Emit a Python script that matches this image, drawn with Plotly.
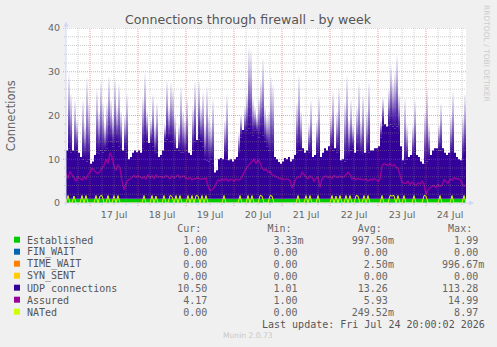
import pandas as pd
import plotly.graph_objects as go

# ---------------- data ----------------
start = "2026-07-16 12:00"
end = "2026-07-24 20:00"
day_labels = ["17 Jul", "18 Jul", "19 Jul", "20 Jul", "21 Jul", "22 Jul", "23 Jul", "24 Jul"]
label_times = ["2026-07-%02d 12:00" % d for d in range(17, 25)]

# hourly samples starting 16 Jul 12:00 (201 values)
established = [
    1.0, 1.0, 1.0, 1.0, 1.0, 1.0, 1.0, 1.0, 1.0, 1.0,
    1.0, 1.0, 1.0, 1.0, 1.0, 1.0, 1.0, 1.0, 1.0, 1.0,
    1.0, 1.0, 1.0, 1.0, 1.0, 1.0, 1.0, 1.0, 1.0, 1.0,
    1.0, 1.0, 1.0, 1.0, 1.0, 1.0, 1.0, 1.0, 1.0, 1.0,
    1.0, 1.0, 1.0, 1.0, 1.0, 1.0, 1.0, 1.0, 1.0, 1.0,
    1.0, 1.0, 1.0, 1.0, 1.0, 1.0, 1.0, 1.0, 1.0, 1.0,
    1.0, 1.0, 1.0, 1.0, 1.0, 1.0, 1.0, 1.0, 1.0, 1.0,
    1.0, 1.0, 1.0, 1.0, 1.0, 1.0, 1.0, 1.0, 1.0, 1.0,
    1.0, 1.0, 1.0, 1.0, 1.0, 1.0, 1.0, 1.0, 1.0, 1.0,
    1.0, 1.0, 1.0, 1.0, 1.0, 1.0, 1.0, 1.0, 1.0, 1.0,
    1.0, 1.0, 1.0, 1.0, 1.0, 1.0, 1.0, 1.0, 1.0, 1.0,
    1.0, 1.0, 1.0, 1.0, 1.0, 1.0, 1.0, 1.0, 1.0, 1.0,
    1.0, 1.0, 1.0, 1.0, 1.0, 1.0, 1.0, 1.0, 1.0, 1.0,
    1.0, 1.0, 1.0, 1.0, 1.0, 1.0, 1.0, 1.0, 1.0, 1.0,
    1.0, 1.0, 1.0, 1.0, 1.0, 1.0, 1.0, 1.0, 1.0, 1.0,
    1.0, 1.0, 1.0, 1.0, 1.0, 1.0, 1.0, 1.0, 1.0, 1.0,
    1.0, 1.0, 1.0, 1.0, 1.0, 1.0, 1.0, 1.0, 1.0, 1.0,
    1.0, 1.0, 1.0, 1.0, 1.0, 1.0, 1.0, 1.0, 1.0, 1.0,
    1.0, 1.0, 1.0, 1.0, 1.0, 1.0, 1.0, 1.0, 1.0, 1.0,
    1.0, 1.0, 1.0, 1.0, 1.0, 1.0, 1.0, 1.0, 1.0, 1.0,
    1.0,
]

# UDP connections: sustained level (lower envelope)
udp_base = [
    11, 11.5, 10.5, 11, 10, 11, 10.5, 9.5, 9, 9.3,
    8.5, 9, 8, 8.5, 10, 10.5, 10.4, 11, 10.5, 11,
    11.5, 12.5, 13, 12, 12.5, 13, 12, 11.5, 11, 11.5,
    10.5, 9, 9.5, 10.5, 11, 10.6, 11, 10.5, 11.5, 12.5,
    13, 12.7, 12.5, 12, 10, 10.5, 9.5, 10, 11, 13,
    13.5, 13.4, 13, 12.5, 11, 11.5, 11, 10.5, 10.5, 10,
    11, 10.5, 10, 11, 13, 13.4, 13.5, 13, 12, 9,
    8.8, 8.5, 9, 8, 6, 6.5, 9, 9.3, 9, 9.5,
    9, 8.8, 9, 8.5, 9, 9.5, 10, 14, 15.7, 15,
    15.5, 16, 15, 14.5, 15.5, 15, 14, 15, 14.5, 13,
    12, 11, 10, 10, 9.5, 9, 8.4, 8, 8.5, 9.3,
    9, 9.5, 8.5, 9, 10, 10.5, 11, 11, 11.5, 10.5,
    11, 10.5, 10, 9.5, 10, 10.5, 10, 9.5, 10.5, 11.5,
    11, 12, 11.5, 11, 11.5, 10.5, 10, 8.8, 9, 8.5,
    9, 9.5, 11, 11.5, 10.5, 11, 10, 10, 9.5, 10.5,
    10, 10.5, 11, 11, 11.5, 11.5, 12, 14, 16.8, 17,
    16.5, 16.8, 17, 16.5, 16, 16.5, 15, 12, 8.8, 8,
    9, 9.5, 10, 9.5, 10.5, 10, 9.5, 8.5, 8, 8.1,
    8.5, 9, 10, 11, 11.5, 11.5, 11, 11, 11.5, 10.5,
    10, 10.5, 10, 10, 10.5, 9.5, 9, 8.8, 9, 10,
    10.5,
]

# UDP connections: peak values (short bursts)
udp = [
    11, 28.7, 24, 11, 22.5, 18, 10.5, 9.5, 22.5, 17,
    27.6, 22, 8, 8.5, 10, 25, 20, 27, 22, 17,
    22, 28, 22.5, 19, 27.6, 21, 26.2, 20, 11, 19,
    24, 9, 9.5, 10.5, 11, 10.6, 11, 10.5, 23, 28.7,
    20, 12.7, 18, 23.8, 17, 21.9, 9.5, 10, 11, 17,
    27, 21, 26.6, 25, 19, 11.5, 17, 25.5, 20, 18,
    23.2, 10.5, 10, 21, 26.6, 13.4, 27, 21, 24.3, 17,
    25.6, 19, 17, 22.8, 6, 6.5, 9, 9.3, 9, 18,
    23.8, 8.8, 9, 8.5, 9, 9.5, 15, 19.2, 15.7, 21,
    24, 34.6, 34, 23, 21, 19, 23, 27, 32, 21,
    19, 20, 27.9, 26, 9.5, 9, 8.4, 8, 8.5, 9.3,
    9, 9.5, 8.5, 9, 10, 22, 28.2, 20, 11.5, 10.5,
    11, 17, 22.5, 9.5, 10, 18, 23.3, 9.5, 10.5, 11.5,
    11, 12, 19, 24.5, 11.5, 20, 25.5, 8.8, 9, 22,
    28.2, 18, 22.5, 17, 10.5, 21, 26.6, 18, 23.8, 10.5,
    20, 26.6, 11, 11, 11.5, 11.5, 12, 18, 23, 17,
    16.5, 25, 30.5, 27, 29, 32.8, 24, 12, 8.8, 23,
    17, 9.5, 10, 17, 22.5, 10, 9.5, 8.5, 8, 20,
    25.5, 17, 10, 11, 11.5, 11.5, 17, 21.8, 11.5, 10.5,
    10, 10.5, 19, 24.5, 10.5, 9.5, 9, 8.8, 19, 24,
    10.5,
]

assured = [
    6.8, 5.6, 7.2, 6.5, 5.5, 5, 6, 5.5, 5.2, 6,
    5.5, 6.5, 7, 8, 7.5, 7, 6.8, 7.2, 8, 8.5,
    10, 9, 11.5, 10.5, 8.3, 7.5, 8.8, 8, 5, 3,
    4.5, 5.2, 5.5, 6, 6.3, 5.8, 6.2, 6, 5.7, 6,
    5.5, 6.5, 5.8, 6.2, 5.6, 6.4, 5.9, 6, 6, 5.8,
    6.3, 6, 5.5, 6.2, 5.7, 6, 6.4, 5.8, 6, 6.2,
    5.6, 5.5, 5.8, 5.3, 5.6, 5.5, 5.9, 5.4, 5.6, 5.5,
    5.7, 3.8, 2.8, 3, 3.5, 4.5, 5.3, 5, 5.5, 5.2,
    5.6, 5, 5.4, 5.3, 5, 5.5, 5.2, 5.4, 6, 7,
    7.8, 8.5, 9, 9.5, 10, 9, 9.8, 9.2, 8, 7.5,
    7.8, 7, 7.2, 6.5, 6.3, 6, 5.8, 5.5, 5.6, 5.3,
    5.5, 5.4, 5.2, 3.4, 4.5, 5.5, 6, 5.8, 7, 6.4,
    6, 5.5, 6.2, 5.8, 5, 5.6, 6, 3.5, 5.5, 6,
    6.2, 5.8, 6, 5.6, 6.3, 6, 5.8, 6.2, 5.9, 6,
    6.5, 7, 6.5, 5.5, 5.8, 5.3, 5.6, 5.5, 5.4, 5.3,
    5.5, 5, 5.4, 5.2, 5.6, 5.3, 5, 5.5, 8.5, 9,
    8.8, 8.6, 9, 8.5, 8.8, 8.2, 8, 6, 4.7, 4.5,
    4.5, 5, 4.2, 4.8, 4.5, 4, 4.6, 4.3, 5, 4.4,
    1.9, 3, 3.5, 3.8, 4, 3.5, 4.2, 3.8, 4, 5.3,
    5, 4.5, 5.5, 5.2, 5.8, 5.5, 5.6, 5.3, 4.5, 3.8,
    4.17,
]

nated = [
    0, 1.7, 0, 0, 1.6, 0, 0, 0, 1.7, 0,
    1.7, 0, 0, 0, 0, 1.7, 0, 1.6, 1.7, 0,
    0, 1.7, 0, 0, 1.7, 0, 1.7, 0, 0, 0,
    0, 0, 0, 0, 0, 0, 0, 0, 0, 1.7,
    0, 0, 0, 1.7, 0, 1.6, 0, 0, 0, 1.7,
    0, 0, 1.7, 1.5, 0, 1.7, 0, 1.7, 0, 0,
    0, 1.7, 0, 1.7, 0, 1.7, 1.6, 0, 1.7, 0,
    1.7, 0, 0, 0, 0, 0, 0, 0, 0, 1.7,
    0, 0, 0, 0, 0, 0, 0, 1.7, 0, 0,
    0, 1.7, 0, 1.7, 0, 0, 0, 1.7, 1.6, 0,
    0, 0, 1.7, 1.6, 0, 0, 0, 0, 0, 0,
    0, 0, 0, 0, 0, 0, 1.7, 0, 0, 0,
    1.7, 0, 1.7, 0, 0, 0, 1.7, 0, 0, 0,
    0, 0, 0, 1.7, 0, 1.6, 0, 1.7, 0, 0,
    1.7, 0, 1.7, 0, 0, 1.7, 1.6, 0, 0, 1.7,
    0, 1.7, 0, 0, 0, 0, 0, 0, 1.7, 0,
    0, 0, 1.7, 1.6, 1.7, 0, 1.7, 0, 0, 1.7,
    0, 0, 0, 0, 1.7, 0, 0, 0, 0, 1.7,
    1.6, 0, 0, 0, 0, 0, 0, 1.7, 0, 0,
    0, 0, 0, 1.7, 0, 0, 0, 0, 0, 1.7,
    0,
]

legend_names = ["Established", "FIN_WAIT", "TIME_WAIT", "SYN_SENT",
                "UDP connections", "Assured", "NATed"]
legend_colors = ["#00CC00", "#0066B3", "#FF8000", "#FFCC00",
                 "#330099", "#990099", "#CCFF00"]
cur_vals = ["1.00", "0.00", "0.00", "0.00", "10.50", "4.17", "0.00"]
min_vals = ["3.33m", "0.00", "0.00", "0.00", "1.01", "1.00", "0.00"]
avg_vals = ["997.50m", "0.00", "2.50m", "0.00", "13.26", "5.93", "249.52m"]
max_vals = ["1.99", "0.00", "996.67m", "0.00", "113.28", "14.99", "8.97"]
col_headers = ["Cur:", "Min:", "Avg:", "Max:"]
last_update = "Last update: Fri Jul 24 20:00:02 2026"
title_text = "Connections through firewall - by week"
y_title = "Connections"
side_text = "RRDTOOL / TOBI OETIKER"
footer = "Munin 2.0.73"

n = len(udp)
assert all(len(a) == n for a in (established, udp_base, assured, nated)), \
    [len(a) for a in (established, udp_base, udp, assured, nated)]

# ---------------- geometry ----------------
W, H = 497, 347
L, R, T, B = 66, 466, 28, 203


def px_x(px):
    return (px - L) / (R - L)


def px_y(py):
    return (B - py) / (B - T)


FONT = "DejaVu Sans"
MONO = "DejaVu Sans Mono"
GREY = "#666666"

times = pd.date_range(start, periods=n, freq="h")
hour = pd.Timedelta(hours=1)

fig = go.Figure()

base_top = [e + b for e, b in zip(established, udp_base)]

fig.add_trace(go.Scatter(x=times, y=established, mode="lines",
                         line=dict(width=0, shape="hv"), fill="tozeroy",
                         fillcolor="#00CC00", hoverinfo="skip", showlegend=False))
fig.add_trace(go.Scatter(x=times, y=base_top, mode="lines",
                         line=dict(width=0, shape="hv"), fill="tonexty",
                         fillcolor="#330099", hoverinfo="skip", showlegend=False))

# bursts above the sustained level, fading toward their peak
for i in range(n):
    if udp[i] > udp_base[i]:
        yb = established[i] + udp_base[i]
        yp = established[i] + udp[i]
        xa, xb = times[i], times[i] + hour
        fig.add_trace(go.Scatter(
            x=[xa, xa, xb, xb, xa], y=[yb, yp, yp, yb, yb],
            mode="lines", line=dict(width=0), fill="toself",
            fillcolor="rgba(51,0,153,0.5)",
            fillgradient=dict(type="vertical", start=yb, stop=yp,
                              colorscale=[[0, "rgba(51,0,153,1)"],
                                          [0.25, "rgba(51,0,153,0.8)"],
                                          [0.65, "rgba(51,0,153,0.32)"],
                                          [1, "rgba(51,0,153,0.02)"]]),
            hoverinfo="skip", showlegend=False))

fig.add_trace(go.Scatter(x=times, y=assured, mode="lines",
                         line=dict(color="#990099", width=1.4),
                         hoverinfo="skip", showlegend=False))
fig.add_trace(go.Scatter(x=times, y=nated, mode="lines",
                         line=dict(color="#CCFF00", width=1),
                         hoverinfo="skip", showlegend=False))

# ---------------- grid (drawn over the data, like rrdtool) ----------------
shapes = []
MINOR = "rgba(140,140,140,0.42)"
MAJOR = "rgba(225,70,70,0.5)"
for t in pd.date_range("2026-07-16 18:00", end, freq="6h"):
    major = t.hour == 0
    shapes.append(dict(type="line", xref="x", yref="paper", x0=t, x1=t,
                       y0=px_y(206 if major else 205), y1=1, layer="above",
                       line=dict(color=MAJOR if major else MINOR, width=1,
                                 dash="1px,1px")))
for v in range(2, 41, 2):
    major = v % 10 == 0
    shapes.append(dict(type="line", xref="paper", yref="y", x0=px_x(63 if major else 64),
                       x1=1, y0=v, y1=v, layer="above",
                       line=dict(color=MAJOR if major else MINOR, width=1,
                                 dash="1px,1px")))

AX = "#CFD6F8"
shapes.append(dict(type="line", xref="paper", yref="paper", x0=0, x1=0,
                   y0=px_y(205), y1=px_y(26), line=dict(color=AX, width=1), layer="above"))
shapes.append(dict(type="line", xref="paper", yref="paper", x0=px_x(64), x1=px_x(469),
                   y0=0, y1=0, line=dict(color=AX, width=1), layer="above"))
shapes.append(dict(type="path", xref="paper", yref="paper", layer="above",
                   path="M %f %f L %f %f L %f %f Z" % (px_x(63.5), px_y(26.5), px_x(66), px_y(21.5),
                                                      px_x(68.5), px_y(26.5)),
                   fillcolor=AX, line=dict(width=0)))
shapes.append(dict(type="path", xref="paper", yref="paper", layer="above",
                   path="M %f %f L %f %f L %f %f Z" % (px_x(469), px_y(200.5), px_x(474), px_y(203),
                                                      px_x(469), px_y(205.5)),
                   fillcolor=AX, line=dict(width=0)))

# ---------------- legend (rrdtool style) ----------------
CH = 6.02  # monospace character width at 10px
TX0 = 26
NUM0 = 17  # first character column of the numbers block
col_ends = [30, 45, 60, 75]
row_y0 = 240.0
row_dy = 12.0
annotations = []


def mono_line(cells):
    chars = [" "] * 80
    for txt, pos in cells:
        for k, c in enumerate(txt):
            chars[pos + k] = c
    return "".join(chars[NUM0:]).rstrip().replace(" ", "\u00a0")


header_cells = [(h, e - 5) for h, e in zip(col_headers, col_ends)]
annotations.append(dict(text=mono_line(header_cells), x=px_x(TX0 + NUM0 * CH),
                        y=px_y(row_y0 - 12),
                        xref="paper", yref="paper", xanchor="left", yanchor="middle",
                        showarrow=False, borderpad=0,
                        font=dict(family=MONO, size=10, color=GREY)))

for i, name in enumerate(legend_names):
    yy = row_y0 + i * row_dy
    shapes.append(dict(type="rect", xref="paper", yref="paper",
                       x0=px_x(14), x1=px_x(20), y0=px_y(yy - 3.3), y1=px_y(yy + 2.7),
                       fillcolor=legend_colors[i], line=dict(width=0), layer="above"))
    annotations.append(dict(text=name, x=px_x(TX0), y=px_y(yy), xref="paper", yref="paper",
                            xanchor="left", yanchor="middle", showarrow=False, borderpad=0,
                            font=dict(family=MONO, size=10, color="#555555")))
    cells = []
    for val, e in zip((cur_vals[i], min_vals[i], avg_vals[i], max_vals[i]), col_ends):
        num, suf = (val[:-1], val[-1]) if val.endswith("m") else (val, "")
        cells.append((num, e - len(num)))
        if suf:
            cells.append((suf, e))
    annotations.append(dict(text=mono_line(cells), x=px_x(TX0 + NUM0 * CH), y=px_y(yy),
                            xref="paper", yref="paper", xanchor="left", yanchor="middle",
                            showarrow=False, borderpad=0,
                            font=dict(family=MONO, size=10, color=GREY)))

annotations.append(dict(text=last_update, x=px_x(TX0 + 39 * CH), y=px_y(row_y0 + 7 * row_dy),
                        xref="paper", yref="paper", xanchor="left", yanchor="middle",
                        showarrow=False, borderpad=0,
                        font=dict(family=MONO, size=10, color="#555555")))

annotations.append(dict(text=title_text, x=px_x(248.3), y=px_y(19.3), xref="paper", yref="paper",
                        xanchor="center", yanchor="middle", showarrow=False, borderpad=0,
                        font=dict(family=FONT, size=12.6, color="#555555")))
annotations.append(dict(text=y_title, x=px_x(10.8), y=px_y(115.5), xref="paper", yref="paper",
                        xanchor="center", yanchor="middle", textangle=-90, showarrow=False,
                        borderpad=0, font=dict(family=FONT, size=11.5, color=GREY)))
annotations.append(dict(text=side_text, x=px_x(486.5), y=px_y(53.5), xref="paper", yref="paper",
                        xanchor="center", yanchor="middle", textangle=90, showarrow=False,
                        borderpad=0, font=dict(family=FONT, size=7.5, color="#CCCCCC")))
annotations.append(dict(text=footer, x=px_x(248), y=px_y(335.7), xref="paper", yref="paper",
                        xanchor="center", yanchor="middle", showarrow=False, borderpad=0,
                        font=dict(family=FONT, size=7.6, color="#C8C8C8")))

fig.update_layout(
    width=W, height=H, autosize=False,
    margin=dict(l=L, r=W - R, t=T, b=H - B, pad=0),
    paper_bgcolor="#F0F0F0", plot_bgcolor="#FFFFFF",
    showlegend=False,
    xaxis=dict(type="date", range=[start, end], tickmode="array",
               tickvals=label_times, ticktext=day_labels,
               showgrid=False, zeroline=False, showline=False, ticks="",
               tickfont=dict(family=FONT, size=9.5, color=GREY),
               ticklabelstandoff=4, fixedrange=True),
    yaxis=dict(range=[0, 40], tickmode="array", tickvals=[0, 10, 20, 30, 40],
               showgrid=False, zeroline=False, showline=False, ticks="",
               tickfont=dict(family=FONT, size=9.5, color=GREY),
               ticklabelstandoff=5, fixedrange=True),
    shapes=shapes,
    annotations=annotations,
)

fig.write_html("out.html", config={"displayModeBar": False})
